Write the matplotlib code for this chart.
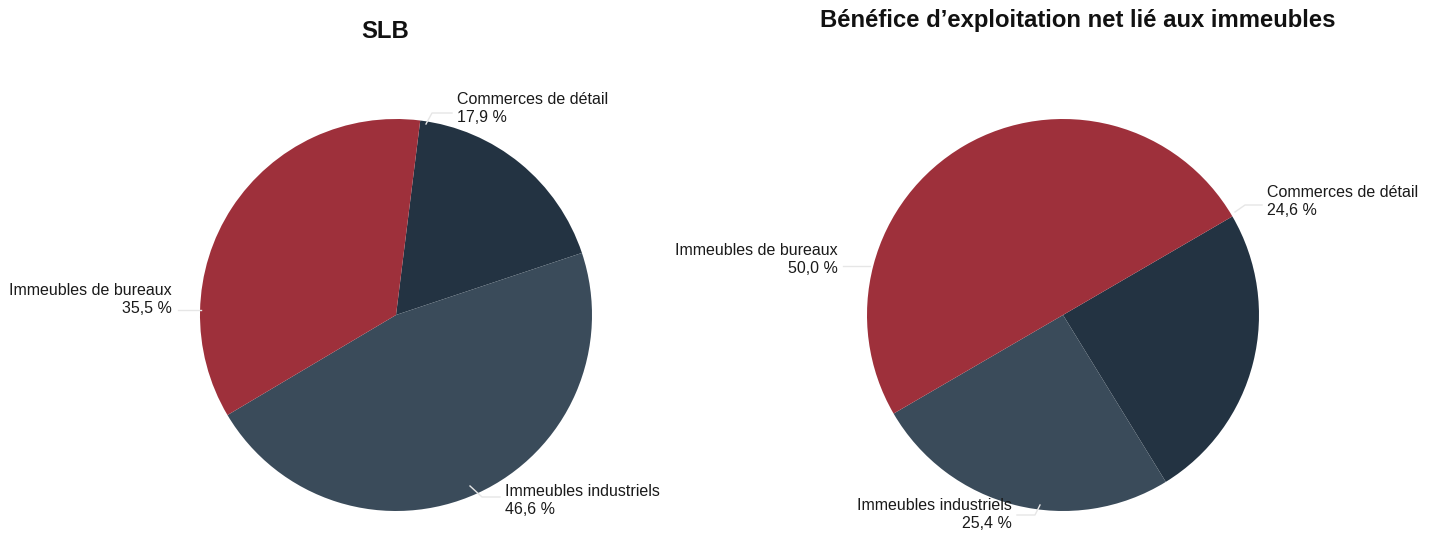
import matplotlib.pyplot as plt

plt.rcParams['font.family'] = ['Liberation Sans', 'DejaVu Sans']

W, H = 1435, 535

# data
cats = ["Commerces de détail", "Immeubles industriels", "Immeubles de bureaux"]
slb_vals = [17.9, 46.6, 35.5]
noi_vals = [24.6, 25.4, 50.0]
titles = ["SLB", "Bénéfice d\u2019exploitation net lié aux immeubles"]
colors = ["#233342", "#3a4b5a", "#9e303b"]


def fmt(v):
    return f"{v:.1f}".replace(".", ",") + " %"


def px(x, y):
    return x / W, 1 - y / H


fig = plt.figure(figsize=(W / 100, H / 100), dpi=100)

# pie layout in pixels: center x, center y, radius, start angle
pies = [
    dict(vals=slb_vals, cx=396, cy=315, r=196, start=82.9, title_x=385, title_y=31,
         # label anchors (x, top y, ha) per category
         labels=[(457, 92, "left"), (505, 484, "left"), (172, 283, "right")],
         leaders=[[(452, 113), (432, 113), (426, 124)],
                  [(500, 497), (482, 497), (470, 486)],
                  [(178, 310), (201, 310)]]),
    dict(vals=noi_vals, cx=1063, cy=315, r=196, start=30.2, title_x=1078, title_y=20,
         labels=[(1267, 185, "left"), (1012, 498, "right"), (838, 243, "right")],
         leaders=[[(1262, 205), (1245, 205), (1235, 212)],
                  [(1017, 515), (1035, 515), (1040, 505)],
                  [(843, 266), (870, 266)]]),
]

for i, p in enumerate(pies):
    r = p["r"]
    l, b = px(p["cx"] - r, p["cy"] + r)
    ax = fig.add_axes([l, b, 2 * r / W, 2 * r / H])
    ax.pie(p["vals"], colors=colors, startangle=p["start"], counterclock=False,
           radius=1, wedgeprops=dict(linewidth=0))
    ax.set_xlim(-1, 1)
    ax.set_ylim(-1, 1)
    ax.set_aspect("equal")
    ax.axis("off")

    tx, ty = px(p["title_x"], p["title_y"])
    fig.text(tx, ty, titles[i], ha="center", va="center", fontsize=17.2,
             fontweight="bold", color="#111111")

    for j, (lx, ly, ha) in enumerate(p["labels"]):
        fx, fy = px(lx, ly)
        fig.text(fx, fy, cats[j] + "\n" + fmt(p["vals"][j]), ha=ha, va="top",
                 fontsize=11.5, color="#1a1a1a", linespacing=1.25,
                 multialignment=ha)
        pts = [px(*q) for q in p["leaders"][j]]
        fig.add_artist(plt.Line2D([q[0] for q in pts], [q[1] for q in pts],
                                  color="#e6e6e6", lw=1, transform=fig.transFigure))

fig.savefig("out.png", dpi=100, facecolor="white")
